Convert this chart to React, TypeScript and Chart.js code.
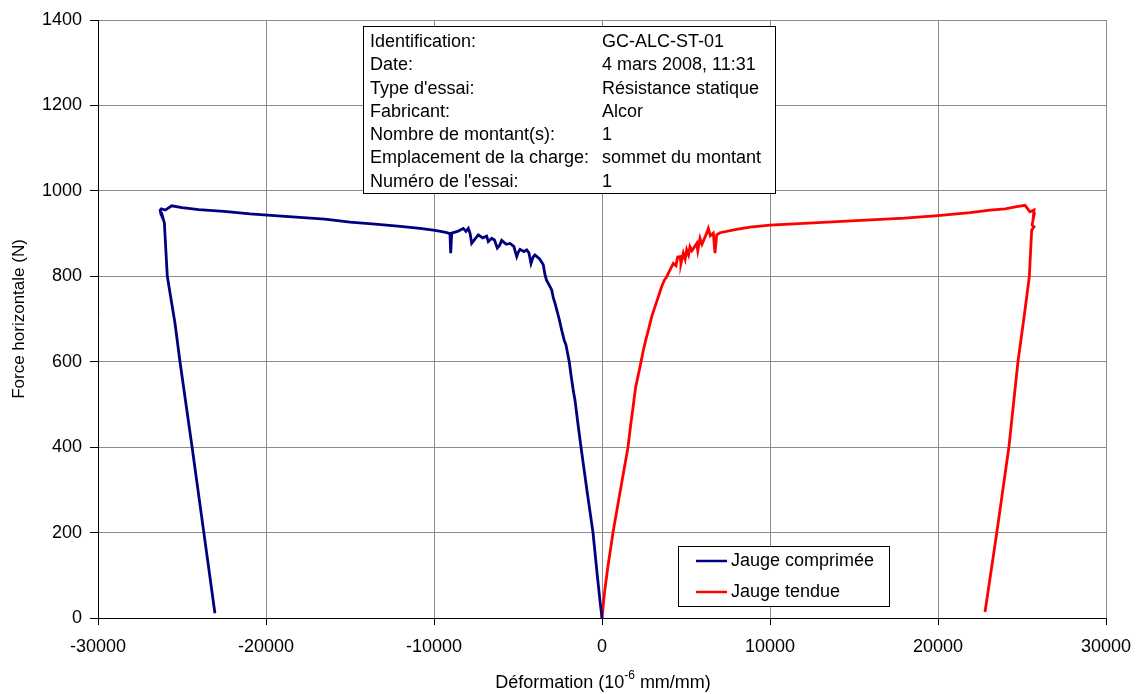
import React, { useEffect, useRef } from "react";
import { Chart, registerables } from "chart.js";

Chart.register(...registerables);

// Compressed gauge: strain (10^-6 mm/mm) and horizontal force (N), in acquisition order
const compStrain = [
  0, -120, -280, -536, -900, -1250, -1450, -1607, -1700, -1845, -1950, -2143, -2250, -2399, -2550,
  -2798, -2900, -2994, -3150, -3304, -3400, -3494, -3700, -3988, -4100, -4226, -4350, -4482, -4650,
  -4881, -5000, -5077, -5250, -5476, -5700, -5970, -6100, -6232, -6400, -6565, -6768, -6863, -7100,
  -7363, -7600, -7756, -7850, -7958, -8100, -8256, -8600, -8946, -9006, -9050, -9244, -9600, -10042,
  -10833, -12000, -13500, -15000, -16500, -18000, -19500, -20950, -22500, -24000, -25000, -25610,
  -26000, -26230, -26300, -26250, -26100, -26230, -26050, -25875, -25417, -25120, -24400, -23700, -23040,
];
const compForce = [
  0, 40, 100, 200, 300, 400, 460, 510, 530, 569, 600, 639, 650, 674, 700,
  737, 750, 768, 780, 791, 805, 827, 840, 850, 845, 830, 855, 862, 858,
  863, 855, 846, 870, 877, 875, 884, 872, 866, 885, 889, 881, 894, 890,
  897, 885, 877, 900, 912, 905, 912, 905, 901, 854, 900, 902, 905, 908,
  912, 917, 922, 927, 934, 938, 942, 946, 952, 956, 961, 965,
  955, 958, 955, 945, 932, 950, 925, 800, 690, 600, 400, 200, 11,
];

// Tensioned gauge
const tensStrain = [
  0, 150, 350, 655, 1100, 1548, 1700, 1827, 2000, 2262, 2460, 2600, 2758, 2956, 3155, 3353, 3554,
  3700, 3851, 4048, 4244, 4400, 4500, 4643, 4700, 4839, 4950, 5042, 5150, 5238, 5350, 5637, 5700,
  5833, 5950, 6232, 6327, 6450, 6625, 6726, 6827, 7024, 8000, 8810, 10000, 12000, 14000, 16000,
  18000, 20000, 21905, 23095, 24000, 24685, 25179, 25476, 25714, 25650, 25750, 25600, 25714, 25575,
  25435, 25179, 24760, 24220, 23500, 22798,
];
const tensForce = [
  0, 60, 120, 200, 300, 400, 450, 487, 540, 588, 627, 650, 674, 705, 729, 752, 776,
  790, 799, 815, 830, 825, 845, 846, 830, 854, 840, 862, 850, 869, 860, 877, 860,
  889, 875, 901, 912, 895, 901, 854, 897, 902, 910, 915, 920, 924, 928, 932,
  936, 942, 949, 955, 958, 963, 966, 951, 955, 930, 950, 920, 916, 908,
  799, 721, 600, 400, 200, 14,
];

const seriesNames = ["Jauge comprimée", "Jauge tendue"];
const seriesColors = ["#000080", "#ff0000"];

const infoLabels = [
  "Identification:",
  "Date:",
  "Type d'essai:",
  "Fabricant:",
  "Nombre de montant(s):",
  "Emplacement de la charge:",
  "Numéro de l'essai:",
];
const infoValues = [
  "GC-ALC-ST-01",
  "4 mars 2008, 11:31",
  "Résistance statique",
  "Alcor",
  "1",
  "sommet du montant",
  "1",
];

const FONT = "'Liberation Sans', Arial, sans-serif";

const overlays = {
  id: "overlays",
  afterDraw(chart: any) {
    const ctx = chart.ctx as CanvasRenderingContext2D;
    ctx.save();

    // test information panel
    ctx.fillStyle = "#ffffff";
    ctx.fillRect(363.5, 26.5, 412, 167);
    ctx.strokeStyle = "#000000";
    ctx.lineWidth = 1;
    ctx.strokeRect(363.5, 26.5, 412, 167);
    ctx.font = `18px ${FONT}`;
    ctx.fillStyle = "#000000";
    ctx.textBaseline = "middle";
    ctx.textAlign = "left";
    infoLabels.forEach((t, i) => {
      const y = 42 + i * 23.3;
      ctx.fillText(t, 370, y);
      ctx.fillText(infoValues[i], 602, y);
    });

    // legend
    ctx.fillStyle = "#ffffff";
    ctx.fillRect(678.5, 546.5, 211, 60);
    ctx.strokeStyle = "#000000";
    ctx.strokeRect(678.5, 546.5, 211, 60);
    seriesNames.forEach((name, i) => {
      const y = 561 + i * 31;
      ctx.strokeStyle = seriesColors[i];
      ctx.lineWidth = 2.5;
      ctx.beginPath();
      ctx.moveTo(696, y);
      ctx.lineTo(727, y);
      ctx.stroke();
      ctx.fillStyle = "#000000";
      ctx.fillText(name, 731, y);
    });

    // x axis title with superscript exponent
    const main1 = "Déformation (10";
    const sup = "-6";
    const main2 = " mm/mm)";
    ctx.textBaseline = "alphabetic";
    ctx.font = `18px ${FONT}`;
    const w1 = ctx.measureText(main1).width;
    const w3 = ctx.measureText(main2).width;
    ctx.font = `12px ${FONT}`;
    const w2 = ctx.measureText(sup).width;
    const total = w1 + w2 + w3;
    let x = 603 - total / 2;
    ctx.fillStyle = "#000000";
    ctx.font = `18px ${FONT}`;
    ctx.fillText(main1, x, 688);
    x += w1;
    ctx.font = `12px ${FONT}`;
    ctx.fillText(sup, x, 679);
    x += w2;
    ctx.font = `18px ${FONT}`;
    ctx.fillText(main2, x, 688);

    ctx.restore();
  },
};

export default function App() {
  const canvasRef = useRef<HTMLCanvasElement | null>(null);

  useEffect(() => {
    if (!canvasRef.current) return;
    const toPoints = (xs: number[], ys: number[]) => xs.map((x, i) => ({ x, y: ys[i] }));
    const chart = new Chart(canvasRef.current, {
      type: "scatter",
      data: {
        datasets: [
          {
            label: seriesNames[0],
            data: toPoints(compStrain, compForce),
            showLine: true,
            borderColor: seriesColors[0],
            backgroundColor: seriesColors[0],
            borderWidth: 2.8,
            pointRadius: 0,
            tension: 0,
          },
          {
            label: seriesNames[1],
            data: toPoints(tensStrain, tensForce),
            showLine: true,
            borderColor: seriesColors[1],
            backgroundColor: seriesColors[1],
            borderWidth: 2.8,
            pointRadius: 0,
            tension: 0,
          },
        ],
      },
      options: {
        animation: false,
        responsive: true,
        maintainAspectRatio: false,
        layout: { padding: { left: 0, top: 20, right: 31, bottom: 0 } },
        plugins: {
          legend: { display: false },
          tooltip: { enabled: false },
        },
        scales: {
          x: {
            type: "linear",
            min: -30000,
            max: 30000,
            ticks: {
              stepSize: 10000,
              color: "#000000",
              font: { family: FONT, size: 18 },
              padding: 11,
              maxRotation: 0,
              callback: (v: any) => String(v),
            },
            grid: { color: "#8c8c8c", tickColor: "#000000", tickLength: 7, lineWidth: 1 },
            border: { color: "#000000", width: 1 },
            afterFit: (s: any) => {
              s.height = 76;
              s.paddingLeft = 0;
              s.paddingRight = 0;
            },
          },
          y: {
            type: "linear",
            min: 0,
            max: 1400,
            ticks: {
              stepSize: 200,
              color: "#000000",
              font: { family: FONT, size: 18 },
              padding: 8,
              callback: (v: any) => String(v),
            },
            grid: { color: "#8c8c8c", tickColor: "#000000", tickLength: 8, lineWidth: 1 },
            border: { color: "#000000", width: 1 },
            title: {
              display: true,
              text: "Force horizontale (N)",
              color: "#000000",
              font: { family: FONT, size: 17 },
              padding: { top: 9, bottom: 0 },
            },
            afterFit: (s: any) => {
              s.width = 98;
            },
          },
        },
      },
      plugins: [overlays],
    });
    return () => chart.destroy();
  }, []);

  return (
    <div style={{ position: "fixed", left: 0, top: 0, width: 1137, height: 694, background: "#ffffff" }}>
      <canvas ref={canvasRef} />
    </div>
  );
}
